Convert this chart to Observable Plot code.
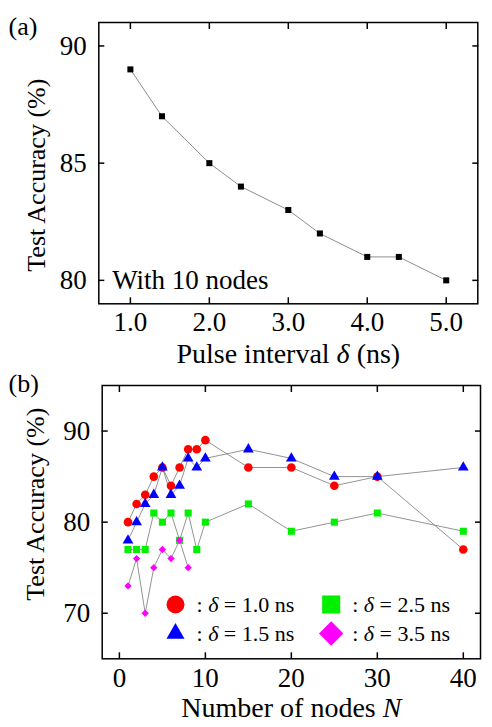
<!DOCTYPE html>
<html>
<head>
<meta charset="utf-8">
<script src="https://cdn.jsdelivr.net/npm/d3@7"></script>
<script src="https://cdn.jsdelivr.net/npm/@observablehq/plot@0.6"></script>
<style>
  html, body { margin: 0; padding: 0; background: white; }
  #chart { width: 492px; height: 727px; position: relative; }
  #chart svg { display: block; }
</style>
</head>
<body>
<div id="chart"></div>
<script>
// ---------- Panel (a) data ----------
const pulseInterval = [1.0, 1.4, 2.0, 2.4, 3.0, 3.4, 4.0, 4.4, 5.0];
const accuracyA = [89, 87, 85, 84, 83, 82, 81, 81, 80];
const xTicksA = [1, 2, 3, 4, 5];
const yTicksA = [80, 85, 90];

// ---------- Panel (b) data ----------
const nodes = [1, 2, 3, 4, 5, 6, 7, 8, 9, 10, 15, 20, 25, 30, 40];
const acc10 = [80, 82, 83, 85, 86, 84, 86, 88, 88, 89, 86, 86, 84, 85, 77];
const acc15 = [78, 80, 82, 83, 86, 83, 84, 87, 86, 87, 88, 87, 85, 85, 86];
const acc25 = [77, 77, 77, 81, 80, 81, 78, 81, 77, 80, 82, 79, 80, 81, 79];
const nodes35 = [1, 2, 3, 4, 5, 6, 7, 8];
const acc35 = [73, 76, 70, 75, 77, 76, 78, 75];
const deltas = ["1.0", "1.5", "2.5", "3.5"];
const xTicksB = [0, 10, 20, 30, 40];
const yTicksB = [70, 80, 90];

const FONT = "Liberation Serif, Times New Roman, serif";
const rows = (xs, ys) => xs.map((x, i) => ({x, y: ys[i]}));
const dataA = rows(pulseInterval, accuracyA);
const s10 = rows(nodes, acc10);
const s15 = rows(nodes, acc15);
const s25 = rows(nodes, acc25);
const s35 = rows(nodes35, acc35);

function frameTicks(xt, yt) {
  const o = {tickSize: -6, tickFormat: () => "", label: null, strokeWidth: 1.5};
  return [
    Plot.axisX(xt, {anchor: "bottom", ...o}),
    Plot.axisX(xt, {anchor: "top", ...o}),
    Plot.axisY(yt, {anchor: "left", ...o}),
    Plot.axisY(yt, {anchor: "right", ...o})
  ];
}

function italicize(svg, token) {
  const ns = "http://www.w3.org/2000/svg";
  svg.querySelectorAll("text").forEach(el => {
    if (el.querySelector("tspan")) return;
    const t = el.textContent;
    const i = t.lastIndexOf(token);
    if (i < 0) return;
    const parts = [t.slice(0, i), token, t.slice(i + token.length)];
    el.textContent = "";
    parts.forEach((p, k) => {
      const ts = document.createElementNS(ns, "tspan");
      ts.textContent = p;
      if (k === 1) ts.setAttribute("font-style", "italic");
      el.appendChild(ts);
    });
  });
}

const style = {fontFamily: FONT, fontSize: "27px", background: "white", color: "black", overflow: "visible"};

// ---------- Panel (a) ----------
const plotA = Plot.plot({
  width: 492, height: 372,
  marginTop: 22, marginBottom: 68.7, marginLeft: 98.3, marginRight: 14.7,
  style,
  x: {domain: [0.6, 5.4]},
  y: {domain: [79, 91]},
  marks: [
    Plot.frame({stroke: "black", strokeWidth: 1.5}),
    ...frameTicks(xTicksA, yTicksA),
    Plot.axisX(xTicksA, {anchor: "bottom", tickSize: 0, tickPadding: 8, tickFormat: d => d.toFixed(1), label: null, fontSize: 27}),
    Plot.axisY(yTicksA, {anchor: "left", tickSize: 0, tickPadding: 12, label: null, fontSize: 27}),
    Plot.line(dataA, {x: "x", y: "y", stroke: "#808080", strokeWidth: 0.9}),
    Plot.dot(dataA, {x: "x", y: "y", symbol: "square", r: 3.4, fill: "black"}),
    Plot.text(["With 10 nodes"], {text: d => d, frameAnchor: "bottom-left", dx: 13.4, dy: -15, textAnchor: "start", lineAnchor: "bottom", fontSize: 27}),
    Plot.text(["Pulse interval δ (ns)"], {text: d => d, frameAnchor: "bottom", dy: 58.7, textAnchor: "middle", lineAnchor: "bottom", fontSize: 28}),
    Plot.text(["Test Accuracy (%)"], {text: d => d, frameAnchor: "left", dx: -54.3, dy: 12, rotate: -90, textAnchor: "middle", lineAnchor: "bottom", fontSize: 26}),
    Plot.text(["(a)"], {text: d => d, frameAnchor: "top-left", dx: -90.3, dy: 12, textAnchor: "start", lineAnchor: "bottom", fontSize: 26})
  ]
});
italicize(plotA, "δ");

// ---------- Panel (b) ----------
const dotSpec = [
  {data: s10, symbol: "circle", r: 4.3, fill: "#ff0000"},
  {data: s15, symbol: "triangle", r: 4.0, fill: "#0000ff"},
  {data: s25, symbol: "square", r: 4.0, fill: "#00f000"},
  {data: s35, symbol: "diamond2", r: 3.3, fill: "#ff00ff"}
];
const legendSpec = [
  {symbol: "circle", r: 9, fill: "#ff0000", dx: 73.3, dy: -54.3},
  {symbol: "triangle", r: 6.7, fill: "#0000ff", dx: 73.3, dy: -25.3},
  {symbol: "square", r: 10.2, fill: "#00f000", dx: 229, dy: -54.3},
  {symbol: "diamond2", r: 11, fill: "#ff00ff", dx: 229, dy: -25.3}
];

const plotB = Plot.plot({
  width: 492, height: 355,
  marginTop: 13, marginBottom: 68.7, marginLeft: 101.7, marginRight: 12,
  style,
  x: {domain: [-2, 42]},
  y: {domain: [65, 95]},
  marks: [
    Plot.frame({stroke: "black", strokeWidth: 1.5}),
    ...frameTicks(xTicksB, yTicksB),
    Plot.axisX(xTicksB, {anchor: "bottom", tickSize: 0, tickPadding: 9.5, label: null, fontSize: 27}),
    Plot.axisY(yTicksB, {anchor: "left", tickSize: 0, tickPadding: 12, label: null, fontSize: 27}),
    ...dotSpec.map(s => Plot.line(s.data, {x: "x", y: "y", stroke: "#777", strokeWidth: 0.8})),
    ...dotSpec.map(s => Plot.dot(s.data, {x: "x", y: "y", symbol: s.symbol, r: s.r, fill: s.fill})),
    ...legendSpec.map((s, i) => Plot.dot([deltas[i]], {frameAnchor: "bottom-left", dx: s.dx, dy: s.dy, symbol: s.symbol, r: s.r, fill: s.fill})),
    ...legendSpec.map((s, i) => Plot.text([deltas[i]], {text: d => `: δ = ${d} ns`, frameAnchor: "bottom-left", dx: s.dx + 21, dy: s.dy, textAnchor: "start", lineAnchor: "middle", fontSize: 22})),
    Plot.text(["Number of nodes N"], {text: d => d, frameAnchor: "bottom", dy: 57.7, textAnchor: "middle", lineAnchor: "bottom", fontSize: 28}),
    Plot.text(["Test Accuracy (%)"], {text: d => d, frameAnchor: "left", dx: -57.7, dy: -18, rotate: -90, textAnchor: "middle", lineAnchor: "bottom", fontSize: 26}),
    Plot.text(["(b)"], {text: d => d, frameAnchor: "top-left", dx: -93.7, dy: 6, textAnchor: "start", lineAnchor: "bottom", fontSize: 26})
  ]
});
italicize(plotB, "δ");
italicize(plotB, "N");

document.getElementById("chart").append(plotA, plotB);
</script>
</body>
</html>
